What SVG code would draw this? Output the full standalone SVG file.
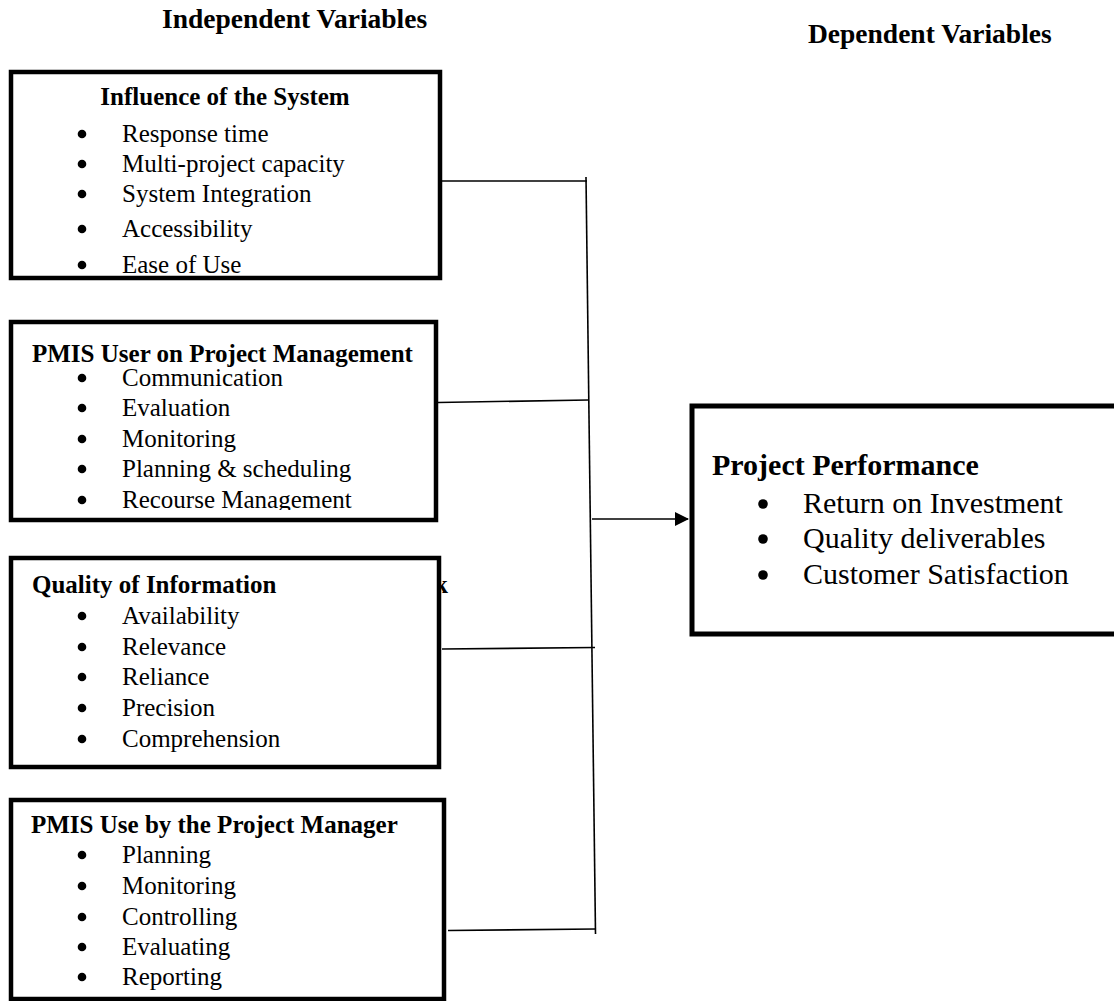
<svg xmlns="http://www.w3.org/2000/svg" width="1114" height="1001" viewBox="0 0 1114 1001">
<style>
  text { font-family: "Liberation Serif", "Times New Roman", serif; fill: #000; }
  .hdr { font-size: 27.5px; font-weight: bold; }
  .ttl { font-size: 25px; font-weight: bold; }
  .itm { font-size: 25px; }
  .big { font-size: 30px; }
  .bigt { font-size: 30px; font-weight: bold; }
  .dot { fill: #000; }
  .box { fill: #fff; stroke: #000; stroke-width: 4.5; }
  .con { fill: none; stroke: #000; stroke-width: 1.6; }
</style>
<defs>
  <marker id="arr" markerWidth="14" markerHeight="14" refX="13" refY="7" orient="auto" markerUnits="userSpaceOnUse">
    <path d="M0,0 L14,7 L0,14 z" fill="#000"/>
  </marker>
  <clipPath id="clip2"><rect x="13" y="324" width="421" height="186"/></clipPath>
</defs>
<rect width="1114" height="1001" fill="#fff"/>

<text class="hdr" x="162" y="28">Independent Variables</text>
<text class="hdr" x="808" y="43">Dependent Variables</text>

<g id="connectors">
  <line class="con" x1="440" y1="181" x2="587" y2="181"/>
  <line class="con" x1="586" y1="177" x2="595.5" y2="934"/>
  <line class="con" x1="438" y1="402.5" x2="588" y2="400"/>
  <line class="con" x1="442" y1="649" x2="595" y2="647.5"/>
  <line class="con" x1="448" y1="930.5" x2="595.5" y2="929"/>
  <line class="con" x1="592" y1="519" x2="688" y2="519" marker-end="url(#arr)"/>
</g>

<g id="node-influence">
  <rect class="box" x="11" y="72" width="429" height="206"/>
  <text class="ttl" x="225" y="105" text-anchor="middle">Influence of the System</text>
  <circle class="dot" cx="82" cy="134" r="4.3"/><text class="itm" x="122" y="142">Response time</text>
  <circle class="dot" cx="82" cy="164" r="4.3"/><text class="itm" x="122" y="172">Multi-project capacity</text>
  <circle class="dot" cx="82" cy="194" r="4.3"/><text class="itm" x="122" y="202">System Integration</text>
  <circle class="dot" cx="82" cy="229" r="4.3"/><text class="itm" x="122" y="237">Accessibility</text>
  <circle class="dot" cx="82" cy="265" r="4.3"/><text class="itm" x="122" y="273">Ease of Use</text>
</g>

<g id="node-pmis-user">
  <rect class="box" x="11" y="322" width="425" height="198"/>
  <g clip-path="url(#clip2)">
    <text class="ttl" x="32" y="362">PMIS User on Project Management</text>
    <circle class="dot" cx="82" cy="378" r="4.3"/><text class="itm" x="122" y="386">Communication</text>
    <circle class="dot" cx="82" cy="408" r="4.3"/><text class="itm" x="122" y="416">Evaluation</text>
    <circle class="dot" cx="82" cy="439" r="4.3"/><text class="itm" x="122" y="447">Monitoring</text>
    <circle class="dot" cx="82" cy="469" r="4.3"/><text class="itm" x="122" y="477">Planning &amp; scheduling</text>
    <circle class="dot" cx="82" cy="500" r="4.3"/><text class="itm" x="122" y="508">Recourse Management</text>
  </g>
</g>

<g id="node-quality">
  <text class="ttl" x="434" y="593">k</text>
  <rect class="box" x="11" y="558" width="428" height="209"/>
  <text class="ttl" x="32" y="593">Quality of Information</text>
  <circle class="dot" cx="82" cy="616" r="4.3"/><text class="itm" x="122" y="624">Availability</text>
  <circle class="dot" cx="82" cy="647" r="4.3"/><text class="itm" x="122" y="655">Relevance</text>
  <circle class="dot" cx="82" cy="677" r="4.3"/><text class="itm" x="122" y="685">Reliance</text>
  <circle class="dot" cx="82" cy="708" r="4.3"/><text class="itm" x="122" y="716">Precision</text>
  <circle class="dot" cx="82" cy="739" r="4.3"/><text class="itm" x="122" y="747">Comprehension</text>
</g>

<g id="node-pm-use">
  <rect class="box" x="11" y="800" width="433" height="199"/>
  <text class="ttl" x="31" y="833">PMIS Use by the Project Manager</text>
  <circle class="dot" cx="82" cy="855" r="4.3"/><text class="itm" x="122" y="863">Planning</text>
  <circle class="dot" cx="82" cy="886" r="4.3"/><text class="itm" x="122" y="894">Monitoring</text>
  <circle class="dot" cx="82" cy="917" r="4.3"/><text class="itm" x="122" y="925">Controlling</text>
  <circle class="dot" cx="82" cy="947" r="4.3"/><text class="itm" x="122" y="955">Evaluating</text>
  <circle class="dot" cx="82" cy="977" r="4.3"/><text class="itm" x="122" y="985">Reporting</text>
</g>

<g id="node-performance">
  <rect class="box" x="692" y="406" width="440" height="228" style="stroke-width:5"/>
  <text class="bigt" x="712" y="475">Project Performance</text>
  <circle class="dot" cx="763" cy="504" r="4.8"/><text class="big" x="803" y="513">Return on Investment</text>
  <circle class="dot" cx="763" cy="539" r="4.8"/><text class="big" x="803" y="548">Quality deliverables</text>
  <circle class="dot" cx="763" cy="575" r="4.8"/><text class="big" x="803" y="584">Customer Satisfaction</text>
</g>
</svg>
